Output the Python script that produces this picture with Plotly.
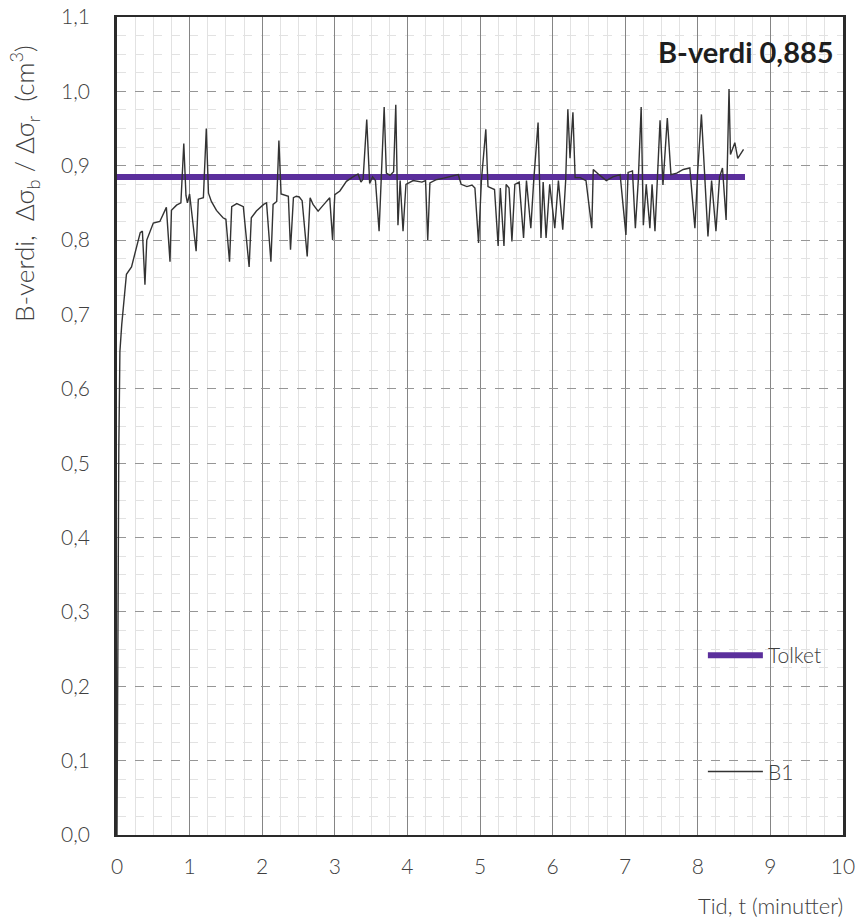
import plotly.graph_objects as go

# B-value measurement (B1) against time, and the interpreted B-value
tid = [0.0, 0.012, 0.025, 0.04, 0.065, 0.13, 0.2, 0.32, 0.35, 0.385, 0.41, 0.5, 0.59, 0.68, 0.73, 0.75,
       0.82, 0.88, 0.92, 0.95, 0.97, 1.0, 1.09, 1.12, 1.19, 1.23, 1.26, 1.3, 1.37, 1.46, 1.5, 1.55,
       1.58, 1.65, 1.74, 1.82, 1.85, 1.92, 2.02, 2.06, 2.12, 2.15, 2.2, 2.23, 2.26, 2.36, 2.39, 2.43,
       2.47, 2.51, 2.55, 2.62, 2.66, 2.7, 2.77, 2.85, 2.93, 2.97, 3.0, 3.07, 3.16, 3.25, 3.32, 3.36,
       3.39, 3.44, 3.48, 3.52, 3.56, 3.61, 3.64, 3.68, 3.71, 3.76, 3.81, 3.84, 3.87, 3.9, 3.94, 3.98,
       4.08, 4.2, 4.25, 4.28, 4.31, 4.39, 4.53, 4.62, 4.7, 4.74, 4.82, 4.89, 4.93, 4.98, 5.02, 5.08,
       5.11, 5.2, 5.25, 5.28, 5.33, 5.36, 5.4, 5.44, 5.48, 5.54, 5.6, 5.64, 5.7, 5.74, 5.8, 5.84,
       5.87, 5.91, 5.96, 6.03, 6.08, 6.14, 6.18, 6.21, 6.24, 6.28, 6.31, 6.38, 6.46, 6.54, 6.56, 6.64,
       6.74, 6.83, 6.93, 7.01, 7.04, 7.1, 7.14, 7.18, 7.22, 7.25, 7.29, 7.34, 7.37, 7.41, 7.48, 7.52,
       7.58, 7.63, 7.71, 7.8, 7.89, 7.96, 8.0, 8.05, 8.1, 8.14, 8.19, 8.25, 8.3, 8.34, 8.39, 8.43,
       8.45, 8.51, 8.55, 8.63]
b1 = [0.0, 0.30, 0.52, 0.65, 0.686, 0.754, 0.764, 0.81, 0.812, 0.74, 0.80, 0.823, 0.825, 0.844, 0.771, 0.84,
      0.847, 0.85, 0.93, 0.86, 0.85, 0.862, 0.785, 0.855, 0.857, 0.95, 0.863, 0.852, 0.84, 0.83, 0.828, 0.771,
      0.845, 0.849, 0.845, 0.764, 0.83, 0.839, 0.848, 0.85, 0.771, 0.848, 0.852, 0.934, 0.862, 0.859, 0.787, 0.857,
      0.859, 0.858, 0.853, 0.778, 0.857, 0.848, 0.839, 0.848, 0.857, 0.80, 0.861, 0.866, 0.879, 0.885, 0.889, 0.878,
      0.882, 0.962, 0.876, 0.885, 0.88, 0.812, 0.885, 0.979, 0.89, 0.887, 0.892, 0.982, 0.82, 0.88, 0.812, 0.875,
      0.88, 0.878, 0.88, 0.80, 0.877, 0.881, 0.884, 0.886, 0.888, 0.875, 0.872, 0.874, 0.87, 0.796, 0.881, 0.949,
      0.872, 0.868, 0.792, 0.87, 0.792, 0.875, 0.87, 0.798, 0.875, 0.878, 0.803, 0.88, 0.816, 0.88, 0.958, 0.803,
      0.878, 0.803, 0.875, 0.816, 0.88, 0.814, 0.88, 0.976, 0.91, 0.972, 0.884, 0.884, 0.88, 0.816, 0.895, 0.888,
      0.88, 0.885, 0.888, 0.807, 0.891, 0.893, 0.816, 0.88, 0.979, 0.82, 0.875, 0.816, 0.875, 0.812, 0.961, 0.874,
      0.964, 0.888, 0.89, 0.895, 0.897, 0.816, 0.895, 0.969, 0.88, 0.805, 0.88, 0.812, 0.885, 0.897, 0.827, 1.003,
      0.915, 0.931, 0.91, 0.922]

tolket_tid = [0.0, 8.65]
tolket_verdi = 0.885

x_ticks = list(range(0, 11))
y_ticks = [round(0.1 * i, 1) for i in range(0, 12)]

FONT = "Lato"
TXT = "#404040"

fig = go.Figure()

fig.add_trace(go.Scatter(
    x=tolket_tid, y=[tolket_verdi] * len(tolket_tid), mode="lines", name="Tolket",
    line=dict(color="#5b2f9c", width=6), legendgroup="a", legendrank=1,
))
fig.add_trace(go.Scatter(
    x=tid, y=b1, mode="lines", name="B1",
    line=dict(color="#333333", width=1.4), legendgroup="b", legendrank=2,
))

# white panels behind the legend and the value label (hide the grid there)
fig.add_shape(type="rect", xref="paper", yref="paper", x0=0.797, x1=1.0, y0=0.0, y1=0.288,
              fillcolor="white", line=dict(width=0), layer="below")
fig.add_shape(type="rect", xref="paper", yref="paper", x0=0.715, x1=1.0, y0=0.918, y1=1.0,
              fillcolor="white", line=dict(width=0), layer="below")

fig.update_layout(
    width=862, height=922,
    margin=dict(l=117, r=19, t=17, b=87, autoexpand=False),
    paper_bgcolor="white", plot_bgcolor="white",
    separators=", ",
    font=dict(family=FONT, color=TXT, size=21, weight=300),
    showlegend=True,
    legend=dict(
        x=0.807, y=0.2445, xanchor="left", yanchor="top",
        bgcolor="rgba(255,255,255,0)", borderwidth=0,
        font=dict(family=FONT, size=21, color=TXT, weight=300),
        itemwidth=55, tracegroupgap=86, itemsizing="trace",
    ),
    xaxis=dict(
        range=[0, 10], tickvals=x_ticks, ticktext=[str(v) for v in x_ticks],
        showgrid=True, gridcolor="#858585", gridwidth=1.3,
        minor=dict(dtick=0.25, showgrid=True, gridcolor="#e2e2e2", gridwidth=1),
        showline=True, linecolor="#2a2a2a", linewidth=2, mirror=True,
        zeroline=False, ticks="", ticklabelstandoff=12, automargin=False,
        tickfont=dict(family=FONT, size=21, color=TXT, weight=300),
    ),
    yaxis=dict(
        range=[0, 1.1], tickvals=y_ticks, tickformat=".1f",
        showgrid=True, gridcolor="#969696", gridwidth=1.2, griddash="dash",
        minor=dict(dtick=0.025, showgrid=True, gridcolor="#e2e2e2", gridwidth=1),
        showline=True, linecolor="#2a2a2a", linewidth=2.5, mirror=True,
        zeroline=False, ticks="", ticklabelstandoff=20, automargin=False,
        tickfont=dict(family=FONT, size=21, color=TXT, weight=300),
    ),
    annotations=[
        dict(text="B-verdi,  Δσ<sub>b</sub> / Δσ<sub>r</sub>  (cm<sup>3</sup>)", textangle=-90,
             xref="paper", yref="paper", x=-0.128, y=0.796, xanchor="center", yanchor="middle",
             showarrow=False, font=dict(family=FONT, size=26, color=TXT, weight=300)),
        dict(text="Tid, t (minutter)", xref="paper", yref="paper", x=1.003, y=-0.0856,
             xanchor="right", yanchor="middle", showarrow=False,
             font=dict(family=FONT, size=22, color=TXT, weight=300)),
        dict(text="<b>B-verdi 0,885</b>", xref="paper", yref="paper", x=0.99, y=0.958,
             xanchor="right", yanchor="middle", showarrow=False,
             font=dict(family=FONT, size=29, color="#1e1e1e", weight=700)),
    ],
)

fig.write_html("out.html")
